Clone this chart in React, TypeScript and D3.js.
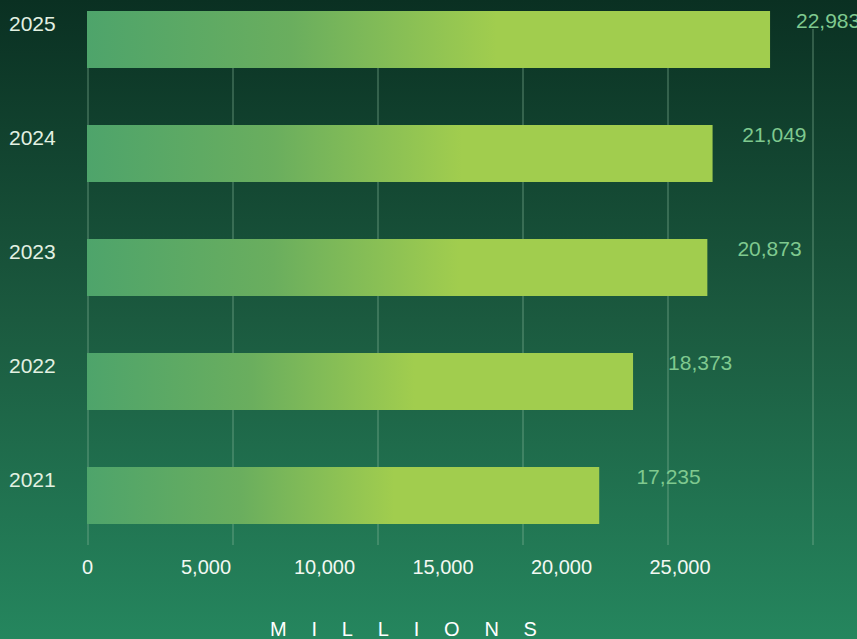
import React from "react";
import * as d3 from "d3";

const years = ["2025", "2024", "2023", "2022", "2021"];
const values = [22983, 21049, 20873, 18373, 17235];
const tickValues = [0, 5000, 10000, 15000, 20000, 25000];
const axisTitle = "MILLIONS";

const W = 857;
const H = 639;
const FONT = "'Liberation Sans', Arial, Helvetica, sans-serif";

export default function App() {
  const y = d3.scaleBand<string>().domain(years).range([11, 524]).paddingInner(0.5).paddingOuter(0);
  const xBar = d3.scaleLinear().domain([0, 25000]).range([87, 830]);
  const xGrid = d3.scaleLinear().domain([0, 25000]).range([88, 813]);
  const xTick = d3.scaleLinear().domain([0, 25000]).range([87.5, 680]);
  const xVal = d3.scaleLinear().domain([0, 25000]).range([158, 852]);
  const fmt = d3.format(",");

  return (
    <svg width={W} height={H} style={{ position: "fixed", left: 0, top: 0 }} fontFamily={FONT}>
      <defs>
        <linearGradient id="bg" x1="0" y1="0" x2="0" y2="1">
          <stop offset="0" stopColor="#0a3022" />
          <stop offset="0.5" stopColor="#1b5a3f" />
          <stop offset="1" stopColor="#25865e" />
        </linearGradient>
        <linearGradient id="bar" x1="0" y1="0" x2="1" y2="0">
          <stop offset="0" stopColor="#4ea46b" />
          <stop offset="0.3" stopColor="#6aae5e" />
          <stop offset="0.6" stopColor="#a1cd4e" />
          <stop offset="1" stopColor="#a1cd4e" />
        </linearGradient>
      </defs>
      <rect x={0} y={0} width={W} height={H} fill="url(#bg)" />
      {tickValues.map((t) => (
        <line key={"g" + t} x1={xGrid(t)} x2={xGrid(t)} y1={29} y2={545}
          stroke="rgba(140,185,155,0.3)" strokeWidth={2} />
      ))}
      {years.map((yr, i) => (
        <g key={yr}>
          <rect x={xBar(0)} y={y(yr)} width={xBar(values[i]) - xBar(0)} height={y.bandwidth()} fill="url(#bar)" />
          <text x={9} y={(y(yr) as number) + 20} fontSize={21} fill="#e3f1e2">{yr}</text>
          <text x={xVal(values[i])} y={(y(yr) as number) + 17} fontSize={21} fill="#7fc98f">{fmt(values[i])}</text>
        </g>
      ))}
      {tickValues.map((t) => (
        <text key={"t" + t} x={xTick(t)} y={574} fontSize={20} fill="#f2f8f2" textAnchor="middle">{fmt(t)}</text>
      ))}
      <text x={270} y={636} fontSize={20} fill="#ffffff" letterSpacing={24.8}>{axisTitle}</text>
    </svg>
  );
}
